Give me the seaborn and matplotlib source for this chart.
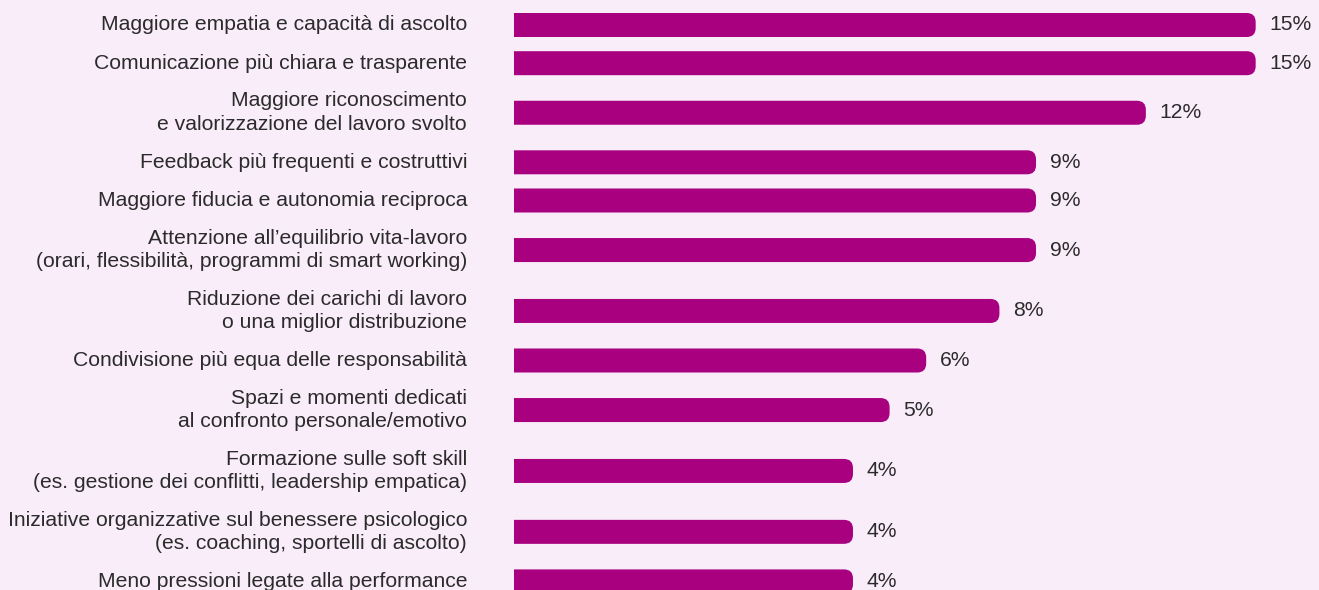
import numpy as np
import pandas as pd
import matplotlib
matplotlib.use("Agg")
import matplotlib.pyplot as plt
import matplotlib.transforms as mtransforms
from matplotlib.patches import FancyBboxPatch
import seaborn as sns

# Survey answers and their shares (%)
labels = [
    "Maggiore empatia e capacità di ascolto",
    "Comunicazione più chiara e trasparente",
    "Maggiore riconoscimento\ne valorizzazione del lavoro svolto",
    "Feedback più frequenti e costruttivi",
    "Maggiore fiducia e autonomia reciproca",
    "Attenzione all’equilibrio vita-lavoro\n(orari, flessibilità, programmi di smart working)",
    "Riduzione dei carichi di lavoro\no una miglior distribuzione",
    "Condivisione più equa delle responsabilità",
    "Spazi e momenti dedicati\nal confronto personale/emotivo",
    "Formazione sulle soft skill\n(es. gestione dei conflitti, leadership empatica)",
    "Iniziative organizzative sul benessere psicologico\n(es. coaching, sportelli di ascolto)",
    "Meno pressioni legate alla performance",
]
values = [15, 15, 12, 9, 9, 9, 8, 6, 5, 4, 4, 4]

BAR_COLOR = "#A8007F"
BG = "#F9EDFA"
TEXT = "#2B2B2B"
W, H, DPI = 1319, 590, 100
FS = 15.2

sns.set_theme(style="white")
plt.rcParams["font.family"] = ["Liberation Sans", "DejaVu Sans"]

# Row centres in pixel units from the top: rows whose labels wrap get more room
n_lines = [lab.count("\n") + 1 for lab in labels]
centres = [25.0]
for a, b in zip(n_lines[:-1], n_lines[1:]):
    centres.append(centres[-1] + 15.5 + 11.35 * (a + b))

df = pd.DataFrame({"label": labels, "value": values, "row": centres})

fig = plt.figure(figsize=(W / DPI, H / DPI), dpi=DPI, facecolor=BG)
ax = fig.add_axes([514 / W, 0, 1 - 514 / W, 1])
ax.set_facecolor(BG)

bar_px = 24
min_gap = float(np.min(np.diff(centres)))
sns.barplot(data=df, x="value", y="row", orient="y", native_scale=True,
            color=BAR_COLOR, saturation=1, width=bar_px / min_gap,
            errorbar=None, ax=ax)

ax.set_xlim(-5.26, 16.73)
ax.set_ylim(H, 0)
ax.set_axis_off()

# Bars run from the left edge of the plot area and end in a rounded cap
x_left = ax.get_xlim()[0]
p0 = ax.transData.transform((0, 0))
p1 = ax.transData.transform((1, 1))
sx, sy = abs(p1[0] - p0[0]), abs(p1[1] - p0[1])
radius_x = 9 / sx
for rect in list(ax.patches):
    y, h = rect.get_y(), rect.get_height()
    end = rect.get_x() + rect.get_width()
    start = x_left - 3 * radius_x
    rect.remove()
    ax.add_patch(FancyBboxPatch(
        (start, y), end - start, h,
        boxstyle=f"round,pad=0,rounding_size={radius_x}",
        mutation_aspect=sx / sy, fc=BAR_COLOR, ec="none"))

# Value labels to the right of each bar
for v, c in zip(values, centres):
    ax.annotate(f"{v}%", xy=(v, c), xytext=(14 * 72 / DPI, 0),
                textcoords="offset points", ha="left", va="center",
                fontsize=FS, color=TEXT, annotation_clip=False)

# Category labels, right-aligned in the left margin
trans = mtransforms.blended_transform_factory(fig.transFigure, ax.transData)
for lab, c in zip(labels, centres):
    ax.text(467 / W, c, lab, transform=trans, ha="right", va="center",
            multialignment="right", fontsize=FS, color=TEXT, linespacing=1.3)

fig.savefig("out.png", dpi=DPI, facecolor=BG)
